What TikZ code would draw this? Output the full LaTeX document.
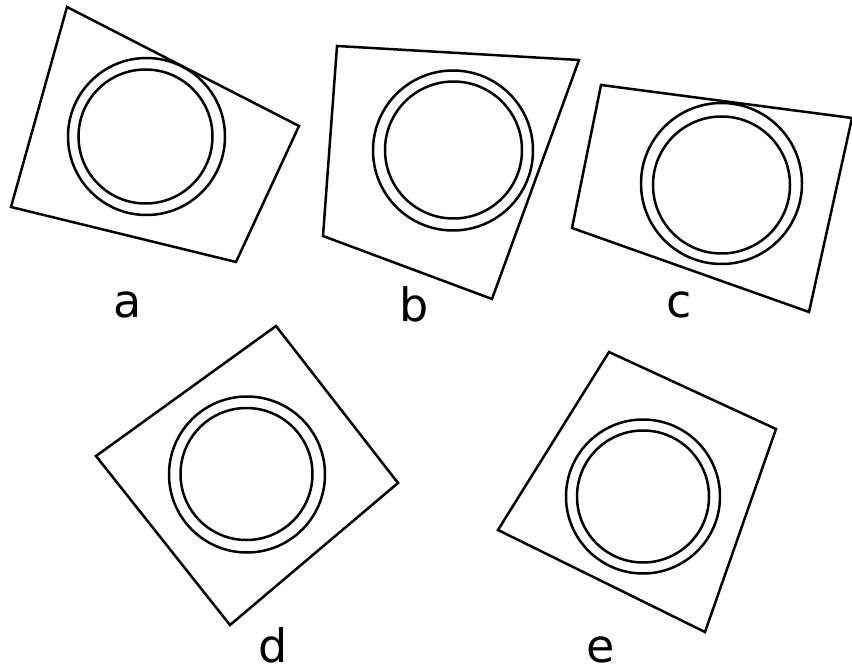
\documentclass[tikz,border=0pt]{standalone}
\usepackage{fontspec}
\setmainfont{DejaVu Sans}
\begin{document}
\begin{tikzpicture}[x=1pt,y=-1pt,
  edge/.style={draw=black,line width=2.5pt,line join=miter},
  ring/.style={circle,draw=black,line width=2.5pt,inner sep=0pt,outer sep=0pt},
  lbl/.style={anchor=base,inner sep=0pt,font=\fontsize{46}{46}\selectfont}]
\useasboundingbox (0,0) rectangle (852,671);
% partial glyph cut at top edge
\begin{scope}
\clip (0,0) rectangle (852,671);
\draw[line width=2.5pt] (151,-3) arc[start angle=180,end angle=360,x radius=7,y radius=6];
\end{scope}
% a
\coordinate (a1) at (67,7);
\coordinate (a2) at (299,126);
\coordinate (a3) at (236,262);
\coordinate (a4) at (11,207);
\draw[edge] (a1) -- (a2) -- (a3) -- (a4) -- cycle;
\node[ring,minimum size=157pt] (ao) at (146.5,136.5) {};
\node[ring,minimum size=134pt] (ai) at (145.5,136.5) {};
\node[lbl] (la) at (127.5,318) {a};
% b
\coordinate (b1) at (337,46);
\coordinate (b2) at (579,60);
\coordinate (b3) at (492,299);
\coordinate (b4) at (323,236);
\draw[edge] (b1) -- (b2) -- (b3) -- (b4) -- cycle;
\node[ring,minimum size=160pt] (bo) at (453,150.5) {};
\node[ring,minimum size=137pt] (bi) at (453.5,150) {};
\node[lbl] (lb) at (414.5,321) {b};
% c
\coordinate (c1) at (601,85);
\coordinate (c2) at (852,118);
\coordinate (c3) at (809,312);
\coordinate (c4) at (572,228);
\draw[edge] (c1) -- (c2) -- (c3) -- (c4) -- cycle;
\node[ring,minimum size=161pt] (co) at (721.5,183.5) {};
\node[ring,minimum size=137pt] (ci) at (721.5,185) {};
\node[lbl] (lc) at (679.5,318) {c};
% d
\coordinate (d1) at (276,326);
\coordinate (d2) at (398,483);
\coordinate (d3) at (230,625);
\coordinate (d4) at (96,456);
\draw[edge] (d1) -- (d2) -- (d3) -- (d4) -- cycle;
\node[ring,minimum size=156pt] (do) at (247,474.5) {};
\node[ring,minimum size=132pt] (di) at (246.5,474) {};
\node[lbl] (ld) at (273,662) {d};
% e
\coordinate (e1) at (609,352);
\coordinate (e2) at (776,429);
\coordinate (e3) at (705,632);
\coordinate (e4) at (498,530);
\draw[edge] (e1) -- (e2) -- (e3) -- (e4) -- cycle;
\node[ring,minimum size=154pt] (eo) at (643,496.5) {};
\node[ring,minimum size=132pt] (ei) at (643,496.5) {};
\node[lbl] (le) at (600.5,662) {e};
\end{tikzpicture}
\end{document}
